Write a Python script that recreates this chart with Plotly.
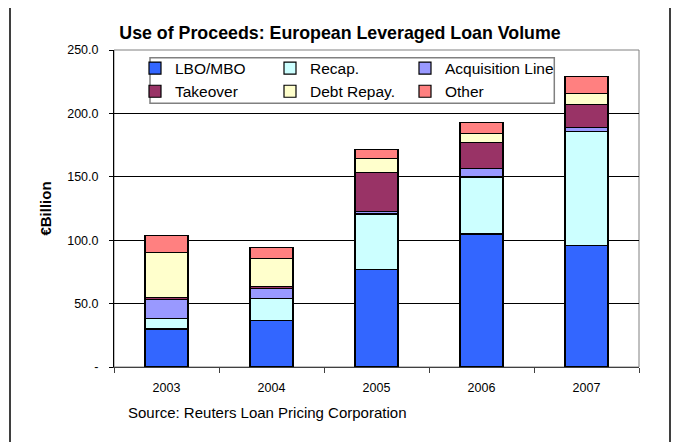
import plotly.graph_objects as go

years = ["2003", "2004", "2005", "2006", "2007"]
lbo_mbo = [30.0, 36.7, 76.6, 104.9, 96.1]
recap = [8.3, 17.6, 44.1, 45.0, 89.5]
acquisition_line = [15.2, 7.7, 2.2, 6.9, 3.2]
takeover = [1.1, 1.3, 30.3, 20.5, 18.5]
debt_repay = [36.0, 22.5, 11.3, 6.8, 8.7]
other = [12.9, 8.7, 6.9, 8.7, 13.4]

y_tick_vals = [0, 50, 100, 150, 200, 250]
y_tick_text = ["-", "50.0", "100.0", "150.0", "200.0", "250.0"]

FONT = "Liberation Sans, Arial, sans-serif"

# legend columns: (LBO, Takeover), (Recap, Debt), (Acq, Other)
series = [
    ("LBO/MBO", lbo_mbo, "#3366FF", "legend"),
    ("Recap.", recap, "#CCFFFF", "legend2"),
    ("Acquisition Line", acquisition_line, "#9999FF", "legend3"),
    ("Takeover", takeover, "#993366", "legend"),
    ("Debt Repay.", debt_repay, "#FFFFCC", "legend2"),
    ("Other", other, "#FF8080", "legend3"),
]

fig = go.Figure()
for name, vals, color, leg in series:
    fig.add_trace(go.Bar(
        x=years, y=vals, name=name, width=0.41,
        marker=dict(color=color, line=dict(color="#000000", width=1.2)),
        legend=leg,
    ))

# page has an 8px body margin; work in reference-page pixels and shift
OFF = 8
W, H = 688 - OFF, 442 - OFF
plot_left, plot_right, plot_top, plot_bottom = 114, 639, 50, 367
ml = plot_left - OFF
mr = W - (plot_right - OFF)
mt = plot_top - OFF
mb = H - (plot_bottom - OFF)
pw, ph = plot_right - plot_left, plot_bottom - plot_top


def px_x(p):
    return (p - plot_left) / pw


def px_y(p):
    return (plot_bottom - p) / ph


legend_common = dict(
    orientation="v", xanchor="left", yanchor="middle",
    bgcolor="rgba(0,0,0,0)", borderwidth=0,
    font=dict(family=FONT, size=15.5, color="#000000"),
    traceorder="normal", itemclick=False, itemdoubleclick=False,
    y=px_y(80),
)

fig.update_layout(
    width=W, height=H,
    margin=dict(l=ml, r=mr, t=mt, b=mb, pad=0),
    paper_bgcolor="#FFFFFF", plot_bgcolor="#FFFFFF",
    barmode="stack",
    font=dict(family=FONT, color="#000000"),
    title=dict(
        text="<b>Use of Proceeds: European Leveraged Loan Volume</b>",
        x=(340 - OFF) / W, xanchor="center", xref="container",
        y=1 - (32.5 - OFF) / H, yanchor="middle", yref="container",
        font=dict(family=FONT, size=17.8, color="#000000"),
    ),
    legend=dict(x=px_x(135), **legend_common),
    legend2=dict(x=px_x(270), **legend_common),
    legend3=dict(x=px_x(405), **legend_common),
    xaxis=dict(
        type="category", showgrid=False, showline=True,
        linecolor="#404040", linewidth=1,
        ticks="outside", ticklen=5, tickcolor="#404040", tickson="boundaries",
        tickfont=dict(family=FONT, size=12.5, color="#000000"),
        ticklabelstandoff=9,
    ),
    yaxis=dict(
        range=[0, 250], tickvals=y_tick_vals, ticktext=y_tick_text,
        showgrid=True, gridcolor="#000000", gridwidth=1,
        showline=True, linecolor="#000000", linewidth=1,
        ticks="outside", ticklen=4, tickcolor="#000000",
        tickfont=dict(family=FONT, size=12.5, color="#000000"),
        ticklabelstandoff=8, zeroline=False,
        title=dict(text="<b>€Billion</b>", font=dict(family=FONT, size=15, color="#000000"),
                   standoff=11),
    ),
    showlegend=True,
)

# legend box
fig.add_shape(type="rect", xref="paper", yref="paper",
              x0=px_x(150), x1=px_x(554.3), y0=px_y(103.3), y1=px_y(57.7),
              line=dict(color="#808080", width=1.5), fillcolor="#FFFFFF", layer="below")
# plot area border
fig.add_shape(type="rect", xref="paper", yref="paper", x0=0, x1=1, y0=0, y1=1,
              line=dict(color="#808080", width=1), layer="below")
# chart frame
fig.add_shape(type="rect", xref="paper", yref="paper",
              x0=px_x(10), x1=px_x(670), y0=px_y(470), y1=px_y(7.3),
              line=dict(color="#000000", width=1.5), layer="below")

fig.add_annotation(
    text="Source: Reuters Loan Pricing Corporation",
    xref="paper", yref="paper", x=px_x(126), y=px_y(412),
    xanchor="left", yanchor="middle", showarrow=False,
    font=dict(family=FONT, size=15, color="#000000"),
)

fig.write_html("out.html")
